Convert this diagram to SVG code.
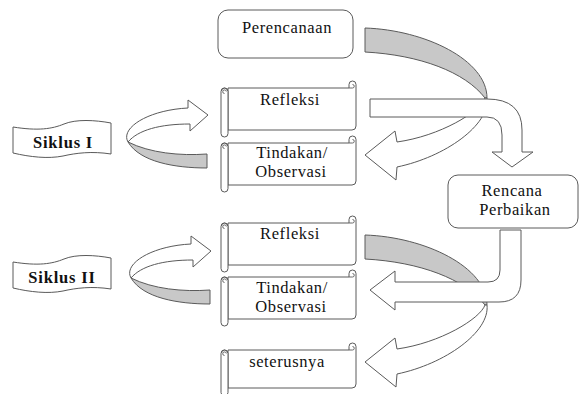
<svg xmlns="http://www.w3.org/2000/svg" xmlns:xlink="http://www.w3.org/1999/xlink" width="580" height="394" viewBox="0 0 580 394">
<style>
.ol{fill:#fff;stroke:#5a5a5a;stroke-width:1;stroke-linejoin:round}
.gr{fill:#c8c8c8;stroke:#5a5a5a;stroke-width:1;stroke-linejoin:round}
.ln{fill:none;stroke:#5a5a5a;stroke-width:0.9}
.t{font-family:"Liberation Serif","Times New Roman",serif;font-size:16.5px;letter-spacing:0.6px;text-anchor:middle;fill:#111}
.b{font-weight:bold;letter-spacing:0.8px}
</style>
<defs>
  <g id="scroll">
    <path class="ol" d="M7,7 H128 V3.5 A3.5,3.5 0 0 1 135,3.5 V45 A4,4 0 0 1 131,49 H7 Z"/>
    <path class="ln" d="M128,7 H131.5 A1.75,1.75 0 0 0 131.5,3.5"/>
    <rect class="ol" x="0" y="7" width="7" height="49" rx="3.5"/>
    <path class="ln" d="M3.5,12.5 A1.8,1.8 0 1 1 5.3,10.5 M0.5,10 A3,3 0 0 1 6.5,10"/>
  </g>
  <g id="banner">
    <path class="ol" d="M13,127 C38,131 52,129 64,124 C76,119 95,120 111,123 L111,154 C92,151 76,153 63,156 C48,159 30,157 13,153 Z"/>
  </g>
  <g id="curveRight">
    <path class="gr" d="M128,142 C150,153 180,156 207,154 L207,168 C175,168 140,162 128,142 Z"/>
    <path class="ol" d="M128,142 C120,128 148,110 188,108 L188,100 L208,115 L190,131 L190,124 C160,124 138,130 128,142 Z"/>
  </g>
  <g id="curveLeft">
    <path class="gr" d="M365,28 C425,30 487,60 487,98 L485,98 C465,72 420,55 365,52 Z"/>
    <path class="ol" d="M485,98 C480,112 440,136 397,142 L395,131 L365,155 L396,180 L397,167 C445,157 490,125 487,98 Z"/>
  </g>
</defs>

<g id="connectors">
  <use xlink:href="#curveRight"/>
  <use xlink:href="#curveRight" transform="translate(3,136)"/>
  <use xlink:href="#curveLeft"/>
  <path class="ol" d="M370,99 L487,99 Q522,99 522,130 L522,152 L533,152 L512,167 L492,152 L502,152 L502,135 Q502,117 487,117 L370,117 Z"/>
  <use xlink:href="#curveLeft" transform="translate(0,207)"/>
  <path class="ol" d="M500,230 L521,230 L521,280 Q521,302 499,302 L395,302 L395,310 L370,290 L395,271 L395,282 L488,282 Q500,282 500,270 Z"/>
</g>

<g id="perencanaan">
  <rect class="ol" x="218" y="10" width="135" height="48" rx="10"/>
  <text class="t" x="287" y="33">Perencanaan</text>
</g>

<g id="siklus1">
  <use xlink:href="#banner"/>
  <text class="t b" x="63" y="148">Siklus I</text>
</g>

<g id="refleksi1">
  <use xlink:href="#scroll" transform="translate(221,81)"/>
  <text class="t" x="290" y="105">Refleksi</text>
</g>

<g id="tindakan1">
  <use xlink:href="#scroll" transform="translate(221,136)"/>
  <text class="t" x="292" y="158">Tindakan/</text>
  <text class="t" x="291" y="177">Observasi</text>
</g>

<g id="rencana">
  <rect class="ol" x="448" y="175" width="130" height="53" rx="10"/>
  <text class="t" x="512" y="196">Rencana</text>
  <text class="t" x="515" y="215">Perbaikan</text>
</g>

<g id="siklus2">
  <use xlink:href="#banner" transform="translate(0,135)"/>
  <text class="t b" x="62" y="283">Siklus II</text>
</g>

<g id="refleksi2">
  <use xlink:href="#scroll" transform="translate(221,216)"/>
  <text class="t" x="290" y="239">Refleksi</text>
</g>

<g id="tindakan2">
  <use xlink:href="#scroll" transform="translate(221,270)"/>
  <text class="t" x="292" y="293">Tindakan/</text>
  <text class="t" x="291" y="312">Observasi</text>
</g>

<g id="seterusnya">
  <path class="ol" d="M228,350 H349 V346.5 A3.5,3.5 0 0 1 356,346.5 V384 A4,4 0 0 1 352,388 H228 Z"/>
  <path class="ln" d="M349,350 H352.5 A1.75,1.75 0 0 0 352.5,346.5"/>
  <rect class="ol" x="221" y="350" width="7" height="46" rx="3.5"/>
  <path class="ln" d="M224.5,355.5 A1.8,1.8 0 1 1 226.3,353.5 M221.5,353 A3,3 0 0 1 227.5,353"/>
  <text class="t" x="287" y="367">seterusnya</text>
</g>
</svg>
